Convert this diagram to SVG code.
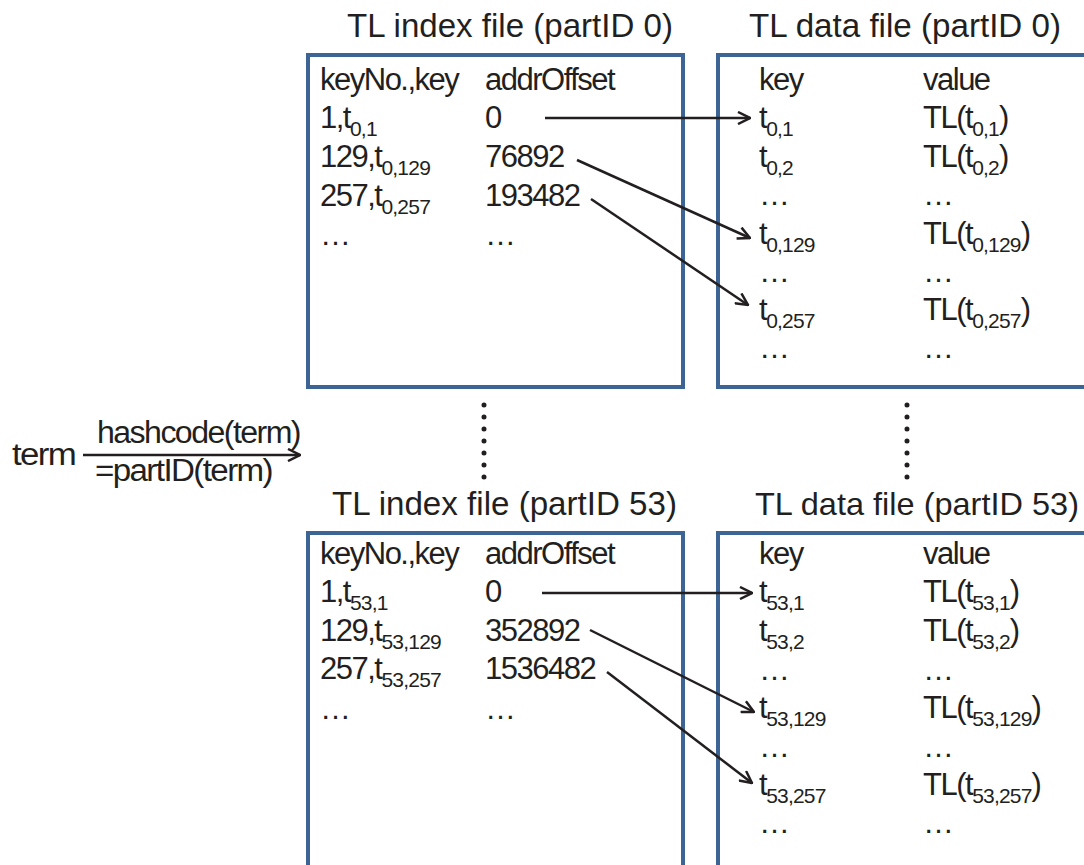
<svg xmlns="http://www.w3.org/2000/svg" width="1084" height="865" viewBox="0 0 1084 865">
<style>
text{font-family:"Liberation Sans",Arial,sans-serif;fill:#231f20;}
.t{font-size:34px;}
.td{font-size:33px;}
.b{font-size:31px;letter-spacing:-1.5px;}
.s{font-size:21px;letter-spacing:-0.8px;}
.box{fill:#fff;stroke:#3c6595;stroke-width:4;}
.c{fill:none;stroke:#231f20;stroke-width:2.5;}
.dots{stroke:#231f20;stroke-width:5;stroke-linecap:round;stroke-dasharray:0 12;fill:none;}
</style>
<defs>
<marker id="ah" viewBox="0 0 14 14" refX="13" refY="7" markerWidth="14" markerHeight="14" orient="auto" markerUnits="userSpaceOnUse">
<path d="M1,1 L13,7 L1,13" fill="none" stroke="#231f20" stroke-width="2.5"/>
</marker>
</defs>
<rect width="1084" height="865" fill="#fff"/>

<g id="index0">
<text class="t" x="347" y="37" textLength="326" lengthAdjust="spacingAndGlyphs">TL index file (partID 0)</text>
<rect class="box" x="308" y="55" width="375" height="332"/>
<text class="b" x="320" y="90">keyNo.,key</text>
<text class="b" x="485" y="90">addrOffset</text>
<text class="b" x="320" y="128">1,t<tspan class="s" dy="8">0,1</tspan></text>
<text class="b" x="485" y="128">0</text>
<text class="b" x="320" y="167">129,t<tspan class="s" dy="8">0,129</tspan></text>
<text class="b" x="485" y="167">76892</text>
<text class="b" x="320" y="206">257,t<tspan class="s" dy="8">0,257</tspan></text>
<text class="b" x="485" y="206">193482</text>
<text class="b" x="320" y="245">…</text>
<text class="b" x="485" y="245">…</text>
</g>

<g id="data0">
<text class="td" x="749" y="37" textLength="312" lengthAdjust="spacingAndGlyphs">TL data file (partID 0)</text>
<rect class="box" x="718" y="55" width="400" height="332"/>
<text class="b" x="759" y="90">key</text>
<text class="b" x="923" y="90">value</text>
<text class="b" x="759" y="128">t<tspan class="s" dy="8">0,1</tspan></text>
<text class="b" x="923" y="128">TL(t<tspan class="s" dy="8">0,1</tspan><tspan dy="-8">)</tspan></text>
<text class="b" x="759" y="167">t<tspan class="s" dy="8">0,2</tspan></text>
<text class="b" x="923" y="167">TL(t<tspan class="s" dy="8">0,2</tspan><tspan dy="-8">)</tspan></text>
<text class="b" x="759" y="205">…</text>
<text class="b" x="923" y="205">…</text>
<text class="b" x="759" y="244">t<tspan class="s" dy="8">0,129</tspan></text>
<text class="b" x="923" y="244">TL(t<tspan class="s" dy="8">0,129</tspan><tspan dy="-8">)</tspan></text>
<text class="b" x="759" y="282">…</text>
<text class="b" x="923" y="282">…</text>
<text class="b" x="759" y="320">t<tspan class="s" dy="8">0,257</tspan></text>
<text class="b" x="923" y="320">TL(t<tspan class="s" dy="8">0,257</tspan><tspan dy="-8">)</tspan></text>
<text class="b" x="759" y="358">…</text>
<text class="b" x="923" y="358">…</text>
</g>

<g id="index53">
<text class="t" x="332" y="515" textLength="345" lengthAdjust="spacingAndGlyphs">TL index file (partID 53)</text>
<rect class="box" x="308" y="533" width="375" height="360"/>
<text class="b" x="320" y="564">keyNo.,key</text>
<text class="b" x="485" y="564">addrOffset</text>
<text class="b" x="320" y="602">1,t<tspan class="s" dy="8">53,1</tspan></text>
<text class="b" x="485" y="602">0</text>
<text class="b" x="320" y="641">129,t<tspan class="s" dy="8">53,129</tspan></text>
<text class="b" x="485" y="641">352892</text>
<text class="b" x="320" y="679">257,t<tspan class="s" dy="8">53,257</tspan></text>
<text class="b" x="485" y="679">1536482</text>
<text class="b" x="320" y="719">…</text>
<text class="b" x="485" y="719">…</text>
</g>

<g id="data53">
<text class="td" style="font-size:32px" x="755" y="515" textLength="324" lengthAdjust="spacingAndGlyphs">TL data file (partID 53)</text>
<rect class="box" x="718" y="533" width="400" height="360"/>
<text class="b" x="759" y="564">key</text>
<text class="b" x="923" y="564">value</text>
<text class="b" x="759" y="602">t<tspan class="s" dy="8">53,1</tspan></text>
<text class="b" x="923" y="602">TL(t<tspan class="s" dy="8">53,1</tspan><tspan dy="-8">)</tspan></text>
<text class="b" x="759" y="641">t<tspan class="s" dy="8">53,2</tspan></text>
<text class="b" x="923" y="641">TL(t<tspan class="s" dy="8">53,2</tspan><tspan dy="-8">)</tspan></text>
<text class="b" x="759" y="680">…</text>
<text class="b" x="923" y="680">…</text>
<text class="b" x="759" y="718">t<tspan class="s" dy="8" letter-spacing="1.5">53,129</tspan></text>
<text class="b" x="923" y="718">TL(t<tspan class="s" dy="8">53,129</tspan><tspan dy="-8">)</tspan></text>
<text class="b" x="759" y="757">…</text>
<text class="b" x="923" y="757">…</text>
<text class="b" x="759" y="795">t<tspan class="s" dy="8">53,257</tspan></text>
<text class="b" x="923" y="795">TL(t<tspan class="s" dy="8">53,257</tspan><tspan dy="-8">)</tspan></text>
<text class="b" x="759" y="833">…</text>
<text class="b" x="923" y="833">…</text>
</g>

<g id="term">
<text class="b" x="12" y="465" textLength="63" lengthAdjust="spacingAndGlyphs">term</text>
<text class="b" x="97" y="443" textLength="203" lengthAdjust="spacingAndGlyphs">hashcode(term)</text>
<text class="b" x="95" y="481" textLength="177" lengthAdjust="spacingAndGlyphs">=partID(term)</text>
</g>

<g id="connectors">
<line class="c" x1="83" y1="455" x2="300" y2="455" marker-end="url(#ah)"/>
<line class="c" x1="545" y1="118" x2="750" y2="118" marker-end="url(#ah)"/>
<line class="c" x1="577" y1="160" x2="750" y2="238" marker-end="url(#ah)"/>
<line class="c" x1="591" y1="199" x2="748" y2="305" marker-end="url(#ah)"/>
<line class="c" x1="542" y1="593" x2="752" y2="593" marker-end="url(#ah)"/>
<line class="c" x1="590" y1="630" x2="754" y2="712" marker-end="url(#ah)"/>
<line class="c" x1="607" y1="672" x2="752" y2="783" marker-end="url(#ah)"/>
<line class="dots" x1="484" y1="405" x2="484" y2="480"/>
<line class="dots" x1="907" y1="405" x2="907" y2="480"/>
</g>
</svg>
